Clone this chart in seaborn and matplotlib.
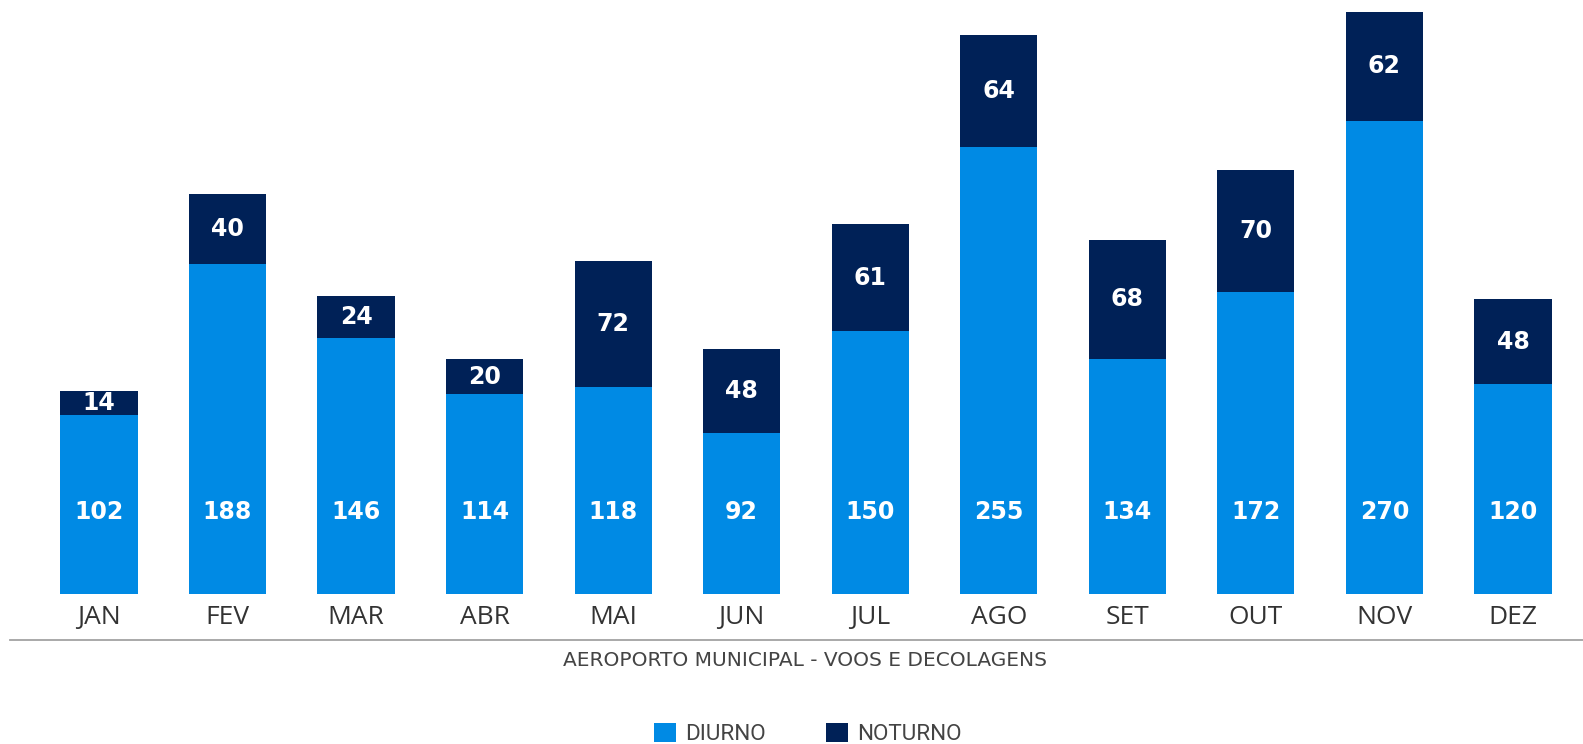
import matplotlib
matplotlib.use("Agg")
import matplotlib.pyplot as plt
from matplotlib.patches import Patch
import seaborn as sns
import pandas as pd

months = ["JAN", "FEV", "MAR", "ABR", "MAI", "JUN", "JUL", "AGO", "SET", "OUT", "NOV", "DEZ"]
diurno = [102, 188, 146, 114, 118, 92, 150, 255, 134, 172, 270, 120]
noturno = [14, 40, 24, 20, 72, 48, 61, 64, 68, 70, 62, 48]
title = "AEROPORTO MUNICIPAL - VOOS E DECOLAGENS"
series_names = ["DIURNO", "NOTURNO"]

C_DAY = "#008AE4"
C_NIGHT = "#002157"

df = pd.DataFrame({"month": months, "diurno": diurno, "noturno": noturno})
df["total"] = df["diurno"] + df["noturno"]

sns.set_theme(style="white")
plt.rcParams["font.family"] = ["Open Sans", "DejaVu Sans"]

W, H = 1583, 744
fig = plt.figure(figsize=(W / 100, H / 100), dpi=100)
ax = fig.add_axes([10 / W, (H - 640) / H, (W - 10) / W, 640 / H])

sns.barplot(data=df, x="month", y="total", color=C_NIGHT, saturation=1,
            width=0.6, linewidth=0, ax=ax, errorbar=None)
sns.barplot(data=df, x="month", y="diurno", color=C_DAY, saturation=1,
            width=0.6, linewidth=0, ax=ax, errorbar=None)

ax.set_xlim(-0.692, 11.545)
ax.set_ylim(-26.2, 338.8)
ax.set_xlabel("")
ax.set_ylabel("")
ax.set_yticks([])
for s in ["top", "left", "right"]:
    ax.spines[s].set_visible(False)
ax.spines["bottom"].set_color("#a3a3a3")
ax.spines["bottom"].set_linewidth(1.3)
ax.tick_params(axis="x", length=0, pad=-16.5, labelsize=19, labelcolor="#333333")
plt.setp(ax.get_xticklabels(), va="center")

for i, (d, n) in enumerate(zip(diurno, noturno)):
    ax.text(i, 47, str(d), ha="center", va="center", color="white",
            fontsize=17, fontweight="bold", family="DejaVu Sans")
    ax.text(i, d + n / 2, str(n), ha="center", va="center", color="white",
            fontsize=17, fontweight="bold", family="DejaVu Sans")

fig.text(805 / W, 1 - 661 / H, title, ha="center", va="center",
         fontsize=14.5, color="#444444", family="DejaVu Sans")

handles = [Patch(facecolor=C_DAY, edgecolor="none"), Patch(facecolor=C_NIGHT, edgecolor="none")]
fig.legend(handles, series_names, loc="center", bbox_to_anchor=(808 / W, 1 - 734 / H),
           ncol=2, frameon=False, handlelength=0.96, handleheight=0.96,
           handletextpad=0.41, columnspacing=2.7, borderpad=0,
           prop={"family": "Roboto", "size": 16.2}, labelcolor="#444444")

fig.savefig("out.png", dpi=100)
